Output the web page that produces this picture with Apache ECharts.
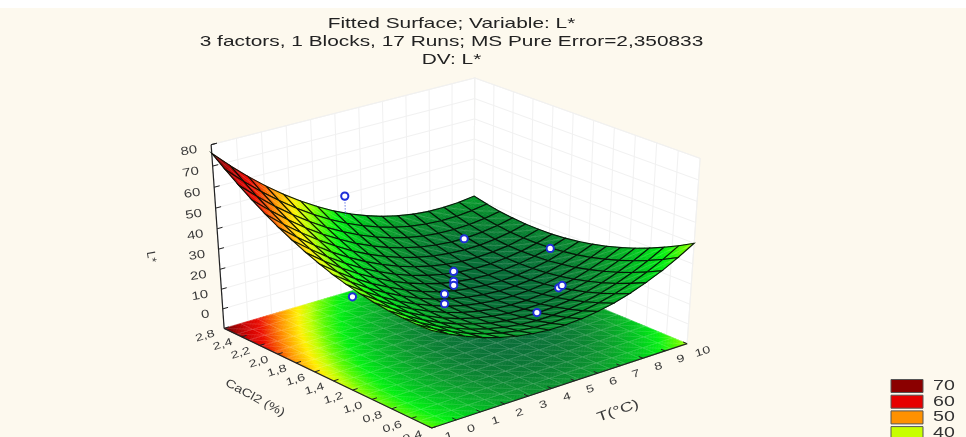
<!DOCTYPE html>
<html><head><meta charset="utf-8"><style>html,body{margin:0;padding:0;background:#fdf9ee}#c{width:966px;height:437px}</style></head>
<body><div id="c"></div>
<script src="https://cdn.jsdelivr.net/npm/echarts@6/dist/echarts.min.js"></script>
<script>
const titleLines=['Fitted Surface; Variable: L*','3 factors, 1 Blocks, 17 Runs; MS Pure Error=2,350833','DV: L*'];
const tTicks=[-1,0,1,2,3,4,5,6,7,8,9,10];
const cTicks=[2.6,2.4,2.2,2.0,1.8,1.6,1.4,1.2,1.0,0.8,0.6,0.4];
const cLabels=['2,8','2,4','2,2','2,0','1,8','1,6','1,4','1,2','1,0','0,8','0,6','0,4'];
const zTicks=[0,10,20,30,40,50,60,70,80];
const legendLevels=[70,60,50,40];
const legendColors=['#8b0000','#e60000','#ff9100','#c8ff00'];
const markerT=[8.15,2.8,4.3,7.7,9.2,5.4,5.4,5.4,5.0,5.0,8.3,7.2];
const markerC=[1.28,2.16,2.6,2.16,1.61,1.72,1.72,1.72,1.72,1.72,1.28,1.28];
const markerZ=[6.3,2,39,15,16,15,10,8,5,0,7,-3];
// Fitted L*; rows run from lowest to highest CaCl2, columns from lowest to highest T
const surfaceZ=[
[37,32.7,29.1,26,23.5,21.6,20.3,19.6,19.5,20,21.1,22.7,25,27.9,31.3,35.4,40],
[36.7,32.2,28.4,25,22.3,20.2,18.7,17.8,17.4,17.7,18.5,20,22,24.7,27.9,31.7,36.1],
[36.8,32.1,28,24.5,21.5,19.2,17.4,16.3,15.7,15.8,16.4,17.6,19.4,21.8,24.8,28.4,32.6],
[37.3,32.4,28,24.2,21.1,18.5,16.5,15.2,14.4,14.2,14.6,15.6,17.1,19.3,22.1,25.5,29.4],
[38.1,33,28.4,24.4,21,18.2,16,14.4,13.4,13,13.1,13.9,15.3,17.2,19.8,22.9,26.6],
[39.3,33.9,29.1,24.9,21.3,18.2,15.8,14,12.7,12.1,12,12.6,13.7,15.4,17.8,20.7,24.2],
[40.8,35.2,30.2,25.7,21.9,18.7,16,13.9,12.5,11.6,11.3,11.6,12.5,14,16.1,18.8,22.1],
[42.7,36.9,31.6,27,22.9,19.4,16.5,14.3,12.6,11.5,10.9,11,11.7,13,14.9,17.3,20.4],
[45,38.9,33.4,28.5,24.3,20.6,17.4,14.9,13,11.7,10.9,10.8,11.3,12.3,13.9,16.2,19],
[47.6,41.3,35.6,30.5,26,22,18.7,16,13.8,12.3,11.3,10.9,11.2,12,13.4,15.4,18],
[50.6,44.1,38.1,32.8,28,23.9,20.3,17.3,15,13.2,12,11.4,11.4,12,13.2,15,17.3],
[53.9,47.2,41,35.4,30.5,26.1,22.3,19.1,16.5,14.5,13.1,12.2,12,12.4,13.3,14.9,17.1],
[57.6,50.6,44.3,38.5,33.3,28.6,24.6,21.2,18.4,16.2,14.5,13.5,13,13.1,13.9,15.2,17.1],
[61.7,54.5,47.9,41.8,36.4,31.6,27.3,23.7,20.6,18.2,16.3,15,14.3,14.2,14.8,15.9,17.6],
[66.1,58.7,51.8,45.6,39.9,34.8,30.4,26.5,23.2,20.5,18.4,16.9,16,15.7,16,16.9,18.3],
[70.9,63.2,56.1,49.7,43.8,38.5,33.8,29.7,26.2,23.3,20.9,19.2,18.1,17.5,17.6,18.3,19.5],
[76,68.1,60.8,54.1,48,42.5,37.6,33.2,29.5,26.4,23.8,21.9,20.5,19.7,19.6,20,21]
];
const FONT='"Liberation Sans",Arial,sans-serif';
const T0=-1,T1=10,C0=0.4,C1=2.6,Z0=-10,Z1=80;
const VIEW=[[297.67941,-190.74441,-25.94932,431.72673],[-63.13686,-74.92004,-205.70546,427.96434],[0.06152,0.07522,-0.05677,1]];
const depth=(x,y,z)=>VIEW[2][0]*x+VIEW[2][1]*y+VIEW[2][2]*z+1;
function proj(T,C,z){const x=(T-T0)/(T1-T0),y=(C-C0)/(C1-C0),h=(z-Z0)/(Z1-Z0),w=depth(x,y,h);
 return [(VIEW[0][0]*x+VIEW[0][1]*y+VIEW[0][2]*h+VIEW[0][3])/w,(VIEW[1][0]*x+VIEW[1][1]*y+VIEW[1][2]*h+VIEW[1][3])/w];}
const ramp=[[10,[8,104,58]],[15,[8,122,50]],[20,[8,150,44]],[27,[0,200,30]],[32,[0,240,16]],[37,[90,250,0]],[41,[190,255,0]],[45,[255,240,0]],[52,[255,140,0]],[60,[235,10,0]],[66,[205,0,0]],[74,[130,0,0]]];
function colorOf(z){if(z<=ramp[0][0])return 'rgb('+ramp[0][1]+')';
 for(let k=1;k<ramp.length;k++)if(z<=ramp[k][0]){const a=ramp[k-1],b=ramp[k],f=(z-a[0])/(b[0]-a[0]);
  return 'rgb('+a[1].map((v,n)=>Math.round(v+(b[1][n]-v)*f)).join(',')+')';}
 return 'rgb('+ramp[ramp.length-1][1]+')';}
const N=surfaceZ.length-1;
const gT=i=>T0+(T1-T0)*i/N, gC=j=>C0+(C1-C0)*j/N;
const line=(a,b,stroke,w,dash)=>({type:'line',shape:{x1:a[0],y1:a[1],x2:b[0],y2:b[1]},style:{stroke,lineWidth:w,lineDash:dash||null}});
const label=(p,text,rot,align,size,sx,sy)=>({type:'text',x:p[0],y:p[1],rotation:rot,scaleX:sx||1,scaleY:sy||1,style:{text,fill:'#3a3a3a',font:(size||12)+'px '+FONT,textAlign:align||'center',textVerticalAlign:'middle'}});
// Cell data, far cells first so that near cells paint over them
const cells=[];
for(let j=0;j<N;j++)for(let i=0;i<N;i++){
 const a=surfaceZ[j][i],b=surfaceZ[j][i+1],c=surfaceZ[j+1][i],d=surfaceZ[j+1][i+1];
 cells.push([i,j,a,b,c,d]);}
const dep=v=>depth((v[0]+.5)/N,(v[1]+.5)/N,((v[2]+v[3]+v[4]+v[5])/4-Z0)/(Z1-Z0));
const surfaceCells=cells.slice().sort((p,q)=>dep(q)-dep(p));
function renderCell(flat,sub,meshStroke,meshW,diag){return (params,api)=>{
 const i=api.value(0),j=api.value(1),a=api.value(2),b=api.value(3),c=api.value(4),d=api.value(5);
 const zAt=(u,v)=>a*(1-u)*(1-v)+b*u*(1-v)+c*(1-u)*v+d*u*v;
 const P=(u,v)=>proj(gT(i+u),gC(j+v),flat?Z0:zAt(u,v));
 const kids=[];
 for(let m=0;m<sub;m++)for(let n=0;n<sub;n++){
  const u0=m/sub,u1=(m+1)/sub,v0=n/sub,v1=(n+1)/sub,col=colorOf(zAt((u0+u1)/2,(v0+v1)/2));
  kids.push({type:'polygon',shape:{points:[P(u0,v0),P(u1,v0),P(u1,v1),P(u0,v1)]},style:{fill:col,stroke:col,lineWidth:.6}});}
 if(diag)kids.push(line(P(0,1),P(1,0),diag,.7));
 kids.push({type:'polygon',shape:{points:[P(0,0),P(1,0),P(1,1),P(0,1)]},style:{fill:'none',stroke:meshStroke,lineWidth:meshW}});
 return {type:'group',children:kids};};}
function renderWalls(){
 const kids=[];
 const WL='#f1f1f1';
 const poly=pts=>({type:'polygon',shape:{points:pts},style:{fill:'#ffffff',stroke:'#f4f2ec',lineWidth:1}});
 kids.push(poly([proj(T0,C1,Z0),proj(T1,C1,Z0),proj(T1,C1,Z1),proj(T0,C1,Z1)]));
 kids.push(poly([proj(T1,C0,Z0),proj(T1,C1,Z0),proj(T1,C1,Z1),proj(T1,C0,Z1)]));
 tTicks.forEach(t=>kids.push(line(proj(t,C1,Z0),proj(t,C1,Z1),WL,1)));
 cTicks.forEach(c=>kids.push(line(proj(T1,c,Z0),proj(T1,c,Z1),WL,1)));
 zTicks.forEach(z=>{kids.push(line(proj(T0,C1,z),proj(T1,C1,z),WL,1));kids.push(line(proj(T1,C0,z),proj(T1,C1,z),WL,1));});
 return {type:'group',children:kids};}
function renderAxes(){
 const kids=[],ink='#222';
 kids.push(line(proj(T0,C1,Z0),proj(T0,C1,Z1),ink,1.2));
 kids.push(line(proj(T0,C1,Z0),proj(T0,C0,Z0),ink,1.2));
 kids.push(line(proj(T0,C0,Z0),proj(T1,C0,Z0),ink,1.2));
 zTicks.forEach(z=>{kids.push(line(proj(T0,C1,z),proj(T0+.22,C1,z),ink,1));
  kids.push(label(proj(T0-.55,C1,z-.6),String(z),.17,'right',13,1.15,.9));});
 kids.push(line(proj(T0,C1,Z1),proj(T0+.22,C1,Z1),ink,1));
 cTicks.forEach((c,n)=>{kids.push(line(proj(T0,c,Z0),proj(T0+.2,c,Z0),ink,1));
  kids.push(label(proj(T0-.9,c-.03,Z0),cLabels[n],.3,'center',13,1.1,.8));});
 tTicks.forEach(t=>{kids.push(line(proj(t,C0,Z0),proj(t,C0+.04,Z0),ink,1));
  kids.push(label(proj(t-.1,C0-.17,Z0),String(t),.3,'center',13,1.1,.8));});
 kids.push(label([255,398],'CaCl2 (%)',-.5,'center',13,1.1,.9));
 kids.push(label([618,411],'T(°C)',.34,'center',14,1.3,.95));
 kids.push(label([151,257],'L*',-1.4,'center',12));
 return {type:'group',children:kids};}
function surfaceAt(T,C){const i=Math.round((T-T0)/(T1-T0)*N),j=Math.round((C-C0)/(C1-C0)*N);return surfaceZ[j][i];}
function renderPoint(params,api){
 const T=api.value(0),C=api.value(1),z=api.value(2),p=proj(T,C,z),s=surfaceAt(T,C),kids=[];
 if(z>s)kids.push(line(p,proj(T,C,s),'#6f7fe8',1,[1.5,1.5]));
 kids.push({type:'circle',shape:{cx:p[0],cy:p[1],r:3.6},style:{fill:'#ffffff',stroke:'#1f2fd8',lineWidth:2}});
 return {type:'group',children:kids};}
const base={type:'custom',coordinateSystem:'none',silent:true,animation:false,progressive:0,clip:false};
const chart=echarts.init(document.getElementById('c'),null,{renderer:'canvas',width:966,height:437});
const graphic=[{type:'rect',shape:{x:0,y:0,width:966,height:8},style:{fill:'#ffffff'},silent:true}];
titleLines.forEach((t,n)=>graphic.push({type:'text',x:451.5,y:24+18*n,scaleX:1.39,silent:true,style:{text:t,fill:'#222',font:'15px '+FONT,textAlign:'center',textVerticalAlign:'middle'}}));
legendLevels.forEach((v,n)=>{
 graphic.push({type:'rect',shape:{x:891,y:379.5+15.7*n,width:32,height:13},style:{fill:legendColors[n],stroke:'#555',lineWidth:1},silent:true});
 graphic.push({type:'text',x:933,y:386.5+15.5*n,scaleX:1.4,silent:true,style:{text:String(v),fill:'#333',font:'14px '+FONT,textAlign:'left',textVerticalAlign:'middle'}});});
chart.setOption({backgroundColor:'#fdf9ee',animation:false,graphic,
 series:[
 Object.assign({},base,{name:'walls',data:[[0]],renderItem:renderWalls,z:1}),
 Object.assign({},base,{name:'floor',data:cells,renderItem:renderCell(true,5,'rgba(255,255,255,.2)',.7,'rgba(255,255,255,.16)'),z:2}),
 Object.assign({},base,{name:'axes',data:[[0]],renderItem:renderAxes,z:3}),
 Object.assign({},base,{name:'L*',data:surfaceCells,renderItem:renderCell(false,3,'rgba(5,15,5,.95)',1.1,'rgba(255,255,255,.22)'),z:4}),
 Object.assign({},base,{name:'runs',data:markerT.map((t,n)=>[t,markerC[n],markerZ[n]]),renderItem:renderPoint,z:5})
 ]});
</script></body></html>
